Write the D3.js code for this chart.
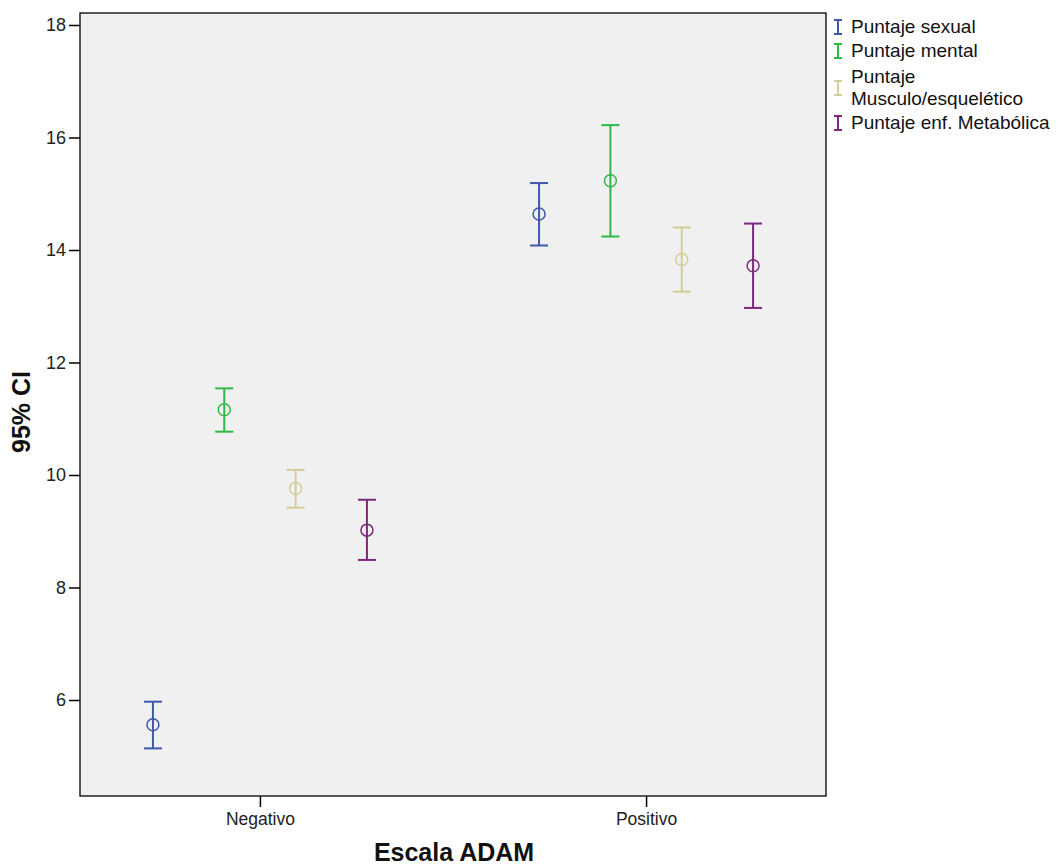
<!DOCTYPE html>
<html><head><meta charset="utf-8">
<script src="https://cdn.jsdelivr.net/npm/d3@7"></script>
<style>body{margin:0;background:#fff;} text{font-family:Arial,"Liberation Sans",sans-serif;}</style>
</head><body>
<svg id="c" width="1059" height="867"></svg>
<script>
const categories = ["Negativo", "Positivo"];
const seriesNames = ["Puntaje sexual", "Puntaje mental", "Puntaje Musculo/esquelético", "Puntaje enf. Metabólica"];
const seriesColors = ["#3e58ac", "#2eb848", "#d3ce97", "#7c287d"];
// [Negativo, Positivo]
const means = [[5.56, 14.64], [11.16, 15.23], [9.76, 13.83], [9.02, 13.72]];
const lower = [[5.14, 14.08], [10.77, 14.24], [9.42, 13.26], [8.49, 12.97]];
const upper = [[5.97, 15.19], [11.54, 16.22], [10.09, 14.40], [9.56, 14.47]];
const yTicks = [6, 8, 10, 12, 14, 16, 18];

const svg = d3.select("#c");
const L = 80, R = 826, T = 13, B = 796;
const ys = d3.scaleLinear().domain([18 + 12 / 56.25, 18 - (796 - 25) / 56.25]).range([T, B]);
const x = d3.scalePoint().domain(categories).range([L, R]).padding(0.466);
const offsets = d3.scalePoint().domain(d3.range(seriesNames.length)).range([-107, 107]);
const FF = "Arial, 'Liberation Sans', sans-serif";

svg.append("rect").attr("x", L).attr("y", T).attr("width", R - L).attr("height", B - T)
  .attr("fill", "#f0f0f0").attr("stroke", "#000").attr("stroke-width", 1.3);

// y axis
const ya = svg.append("g").attr("transform", `translate(${L},0)`)
  .call(d3.axisLeft(ys).tickValues(yTicks).tickSize(11).tickPadding(3).tickFormat(d3.format("d")));
ya.select(".domain").remove();
ya.selectAll("line").attr("stroke", "#000").attr("stroke-width", 1.5);
ya.selectAll("text").attr("font-size", 18).attr("fill", "#222").attr("font-family", FF);

// x axis
const xa = svg.append("g").attr("transform", `translate(0,${B})`)
  .call(d3.axisBottom(x).tickSize(11).tickPadding(6));
xa.select(".domain").remove();
xa.selectAll("line").attr("stroke", "#000").attr("stroke-width", 1.5);
xa.selectAll("text").attr("font-size", 17.5).attr("fill", "#222").attr("font-family", FF);

// error bars
seriesNames.forEach((s, i) => {
  const g = svg.append("g").attr("stroke", seriesColors[i]).attr("fill", "none").attr("stroke-width", 2);
  categories.forEach((c, j) => {
    const cx = x(c) + offsets(i);
    g.append("line").attr("x1", cx).attr("x2", cx).attr("y1", ys(upper[i][j])).attr("y2", ys(lower[i][j]));
    g.append("line").attr("x1", cx - 9).attr("x2", cx + 9).attr("y1", ys(upper[i][j])).attr("y2", ys(upper[i][j]));
    g.append("line").attr("x1", cx - 9).attr("x2", cx + 9).attr("y1", ys(lower[i][j])).attr("y2", ys(lower[i][j]));
    g.append("circle").attr("cx", cx).attr("cy", ys(means[i][j])).attr("r", 6).attr("stroke-width", 1.5);
  });
});

// axis titles
svg.append("text").attr("x", 454).attr("y", 861).attr("text-anchor", "middle")
  .attr("font-size", 25).attr("font-weight", "bold").attr("fill", "#111").text("Escala ADAM");
svg.append("text").attr("transform", "translate(30,412) rotate(-90)").attr("text-anchor", "middle")
  .attr("font-size", 25).attr("font-weight", "bold").attr("fill", "#111").text("95% CI");

// legend
const legY = [27, 51, 88, 123];
const lg = svg.append("g");
seriesNames.forEach((s, i) => {
  const gy = legY[i];
  const g = lg.append("g").attr("stroke", seriesColors[i]).attr("stroke-width", 2);
  g.append("line").attr("x1", 838).attr("x2", 838).attr("y1", gy - 7).attr("y2", gy + 7);
  g.append("line").attr("x1", 834).attr("x2", 842).attr("y1", gy - 7).attr("y2", gy - 7);
  g.append("line").attr("x1", 834).attr("x2", 842).attr("y1", gy + 7).attr("y2", gy + 7);
  if (i === 2) {
    lg.append("text").attr("x", 851).attr("y", 83).attr("font-size", 19).attr("fill", "#111").text("Puntaje");
    lg.append("text").attr("x", 851).attr("y", 105).attr("font-size", 19).attr("fill", "#111").text("Musculo/esquelético");
  } else {
    lg.append("text").attr("x", 851).attr("y", gy + 6).attr("font-size", 19).attr("fill", "#111").text(s);
  }
});
</script>
</body></html>
